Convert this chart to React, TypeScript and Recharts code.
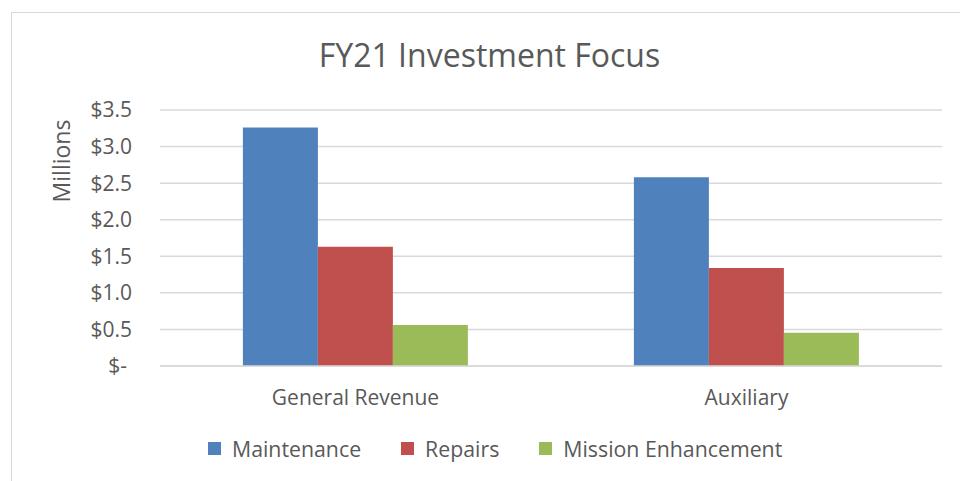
import React from "react";
import { BarChart, Bar, XAxis, YAxis, CartesianGrid, Legend } from "recharts";

const categories = ["General Revenue", "Auxiliary"];
const maintenance = [3.26, 2.58];
const repairs = [1.63, 1.34];
const missionEnhancement = [0.56, 0.455];
const yTicks = [0, 0.5, 1, 1.5, 2, 2.5, 3, 3.5];
const seriesOrder = ["Maintenance", "Repairs", "Mission Enhancement"];

const COLORS = {
  maintenance: "#4F81BD",
  repairs: "#C0504D",
  mission: "#9BBB59",
};

const TEXT = "#595959";
const GRID = "#d9d9d9";
const FONT = "'Open Sans', 'Noto Sans', sans-serif";

const data = categories.map((name, i) => ({
  name,
  maintenance: maintenance[i],
  repairs: repairs[i],
  mission: missionEnhancement[i],
}));

const fmt = (v: number) => (v === 0 ? "$-" : `$${v.toFixed(1)}`);

function YTick(props: any) {
  const { x, y, payload } = props;
  const shift = payload.value === 0 ? -5 : 0;
  return (
    <text x={x + shift} y={y} dy="0.355em" textAnchor="end" fill={TEXT} fontSize={21} fontFamily={FONT}>
      {fmt(payload.value)}
    </text>
  );
}

function LegendContent({ payload }: any) {
  const items = [...(payload || [])].sort(
    (a: any, b: any) => seriesOrder.indexOf(a.value) - seriesOrder.indexOf(b.value)
  );
  return (
    <div style={{ display: "flex", alignItems: "center", fontSize: 21.3, lineHeight: "21px", color: TEXT, fontFamily: FONT }}>
      {items.map((p: any) => (
        <div key={p.value} style={{ display: "flex", alignItems: "center", marginRight: 40 }}>
          <span style={{ display: "inline-block", width: 13, height: 13, background: p.color, marginRight: 11 }} />
          <span style={{ whiteSpace: "nowrap" }}>{p.value}</span>
        </div>
      ))}
    </div>
  );
}

export default function App() {
  return (
    <div style={{ position: "absolute", left: 0, top: 0, width: 960, height: 481, overflow: "hidden", background: "#fff", fontFamily: FONT }}>
      {/* chart frame, only left and top edges show in the picture */}
      <div
        style={{
          position: "absolute",
          left: 11,
          top: 12,
          width: 980,
          height: 500,
          borderLeft: `1px solid ${GRID}`,
          borderTop: `1px solid ${GRID}`,
        }}
      />
      <div
        style={{
          position: "absolute",
          left: 489.5,
          top: 39,
          transform: "translateX(-50%)",
          fontSize: 32,
          lineHeight: "32px",
          color: TEXT,
          whiteSpace: "nowrap",
        }}
      >
        FY21 Investment Focus
      </div>
      <BarChart
        width={960}
        height={481}
        data={data}
        margin={{ top: 110, right: 18, bottom: 75, left: 0 }}
        barCategoryGap="21.2%"
        barGap={0}
        style={{ position: "absolute", left: 0, top: 0 }}
      >
        <CartesianGrid vertical={false} stroke={GRID} strokeWidth={1.5} />
        <XAxis
          dataKey="name"
          height={40}
          axisLine={{ stroke: GRID, strokeWidth: 1.5 }}
          tickLine={false}
          tickSize={0}
          tickMargin={24}
          tick={{ fill: TEXT, fontSize: 21, fontFamily: FONT }}
        />
        <YAxis
          width={160}
          domain={[0, 3.5]}
          ticks={yTicks}
          axisLine={false}
          tickLine={false}
          tickSize={0}
          tickMargin={28}
          tick={<YTick />}
          label={(props: any) => {
            const vb = props.viewBox || { x: 0, y: 110 };
            const lx = vb.x + 70;
            const ly = vb.y + 51;
            return (
              <text x={lx} y={ly} transform={`rotate(-90, ${lx}, ${ly})`} textAnchor="middle" fill={TEXT} fontSize={23} fontFamily={FONT}>
                Millions
              </text>
            );
          }}
        />
        <Legend
          layout="horizontal"
          verticalAlign="middle"
          align="center"
          content={<LegendContent />}
          wrapperStyle={{ left: 208, top: 438, width: "auto" }}
        />
        <Bar dataKey="maintenance" name="Maintenance" fill={COLORS.maintenance} isAnimationActive={false} />
        <Bar dataKey="repairs" name="Repairs" fill={COLORS.repairs} isAnimationActive={false} />
        <Bar dataKey="mission" name="Mission Enhancement" fill={COLORS.mission} isAnimationActive={false} />
      </BarChart>
    </div>
  );
}
